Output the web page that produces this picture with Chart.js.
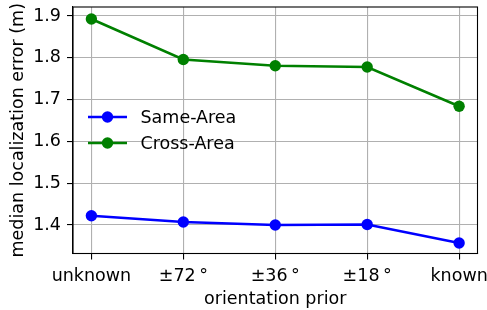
<!DOCTYPE html>
<html>
<head>
<meta charset="utf-8">
<script src="https://cdn.jsdelivr.net/npm/chart.js@4/dist/chart.umd.min.js"></script>
<style>
html,body{margin:0;padding:0;background:#fff;}
#wrap{width:487px;height:310px;position:relative;}
</style>
</head>
<body>
<div id="wrap"><canvas id="c"></canvas></div>
<script>
const categories = ["unknown", "±72\u2009°", "±36\u2009°", "±18\u2009°", "known"];
const sameArea = [1.422, 1.407, 1.400, 1.401, 1.357];
const crossArea = [1.893, 1.796, 1.781, 1.778, 1.684];
const yTicks = [1.4, 1.5, 1.6, 1.7, 1.8, 1.9];
const seriesNames = ["Same-Area", "Cross-Area"];
const seriesColors = ["#0000ff", "#008000"];

const FONT = "'DejaVu Sans', sans-serif";
const FS = 17.5;

const frame = {
  id: 'frame',
  afterDraw(chart) {
    const {ctx, chartArea: a} = chart;
    ctx.save();
    ctx.strokeStyle = '#000';
    ctx.lineWidth = 1.1;
    ctx.strokeRect(a.left, a.top, a.right - a.left, a.bottom - a.top);
    ctx.restore();
  }
};

const legendIn = {
  id: 'legendIn',
  afterDraw(chart) {
    const ctx = chart.ctx;
    const a = chart.chartArea;
    ctx.save();
    chart.data.datasets.forEach((ds, i) => {
      const y = 117 + i * 26;
      const x0 = a.left + 15, x1 = a.left + 54, xm = (x0 + x1) / 2;
      ctx.strokeStyle = ds.borderColor;
      ctx.lineWidth = 2.6;
      ctx.beginPath(); ctx.moveTo(x0, y); ctx.lineTo(x1, y); ctx.stroke();
      ctx.fillStyle = ds.borderColor;
      ctx.beginPath(); ctx.arc(xm, y, 5.7, 0, Math.PI * 2); ctx.fill();
      ctx.fillStyle = '#000';
      ctx.font = FS + 'px ' + FONT;
      ctx.textBaseline = 'middle';
      ctx.textAlign = 'left';
      ctx.fillText(ds.label, a.left + 67.5, y + 1);
    });
    ctx.restore();
  }
};

const datasets = [sameArea, crossArea].map((vals, k) => ({
  label: seriesNames[k],
  data: vals.map((v, i) => ({x: i, y: v})),
  borderColor: seriesColors[k],
  backgroundColor: seriesColors[k],
  borderWidth: 2.6,
  pointRadius: 5.7,
  pointBorderWidth: 0,
  pointHoverRadius: 5.7,
  tension: 0
}));

new Chart(document.getElementById('c'), {
  type: 'line',
  data: { datasets },
  plugins: [frame, legendIn],
  options: {
    responsive: true,
    maintainAspectRatio: false,
    animation: false,
    events: [],
    layout: { padding: { left: 0, right: 9.5, top: 7, bottom: 0 } },
    plugins: { legend: { display: false }, tooltip: { enabled: false } },
    scales: {
      x: {
        type: 'linear',
        min: -0.2, max: 4.2,
        afterBuildTicks(s) { s.ticks = categories.map((_, i) => ({value: i})); },
        afterFit(s) { s.height = 56.5; s.paddingLeft = 0; s.paddingRight = 0; },
        ticks: {
          autoSkip: false, maxRotation: 0,
          color: '#000', font: { family: FONT, size: FS }, padding: 6,
          callback: (v) => categories[v]
        },
        grid: { color: '#b0b0b0', lineWidth: 1.1, tickColor: '#000', tickLength: 6, tickWidth: 1.1 },
        border: { display: true, color: '#000', width: 1.1 },
        title: { display: true, text: 'orientation prior', color: '#000', font: { family: FONT, size: FS }, padding: { top: 0, bottom: 0.5 } }
      },
      y: {
        min: 1.3317, max: 1.9216,
        afterBuildTicks(s) { s.ticks = yTicks.map(v => ({value: v})); },
        afterFit(s) { s.width = 73; s.paddingTop = 0; s.paddingBottom = 0; },
        ticks: {
          color: '#000', font: { family: FONT, size: FS }, padding: 6,
          callback: (v) => Number(v).toFixed(1)
        },
        grid: { color: '#b0b0b0', lineWidth: 1.1, tickColor: '#000', tickLength: 6, tickWidth: 1.1 },
        border: { display: true, color: '#000', width: 1.1 },
        title: { display: true, text: 'median localization error (m)', color: '#000', font: { family: FONT, size: FS }, padding: { top: 7.5, bottom: 0 } }
      }
    }
  }
});
</script>
</body>
</html>
